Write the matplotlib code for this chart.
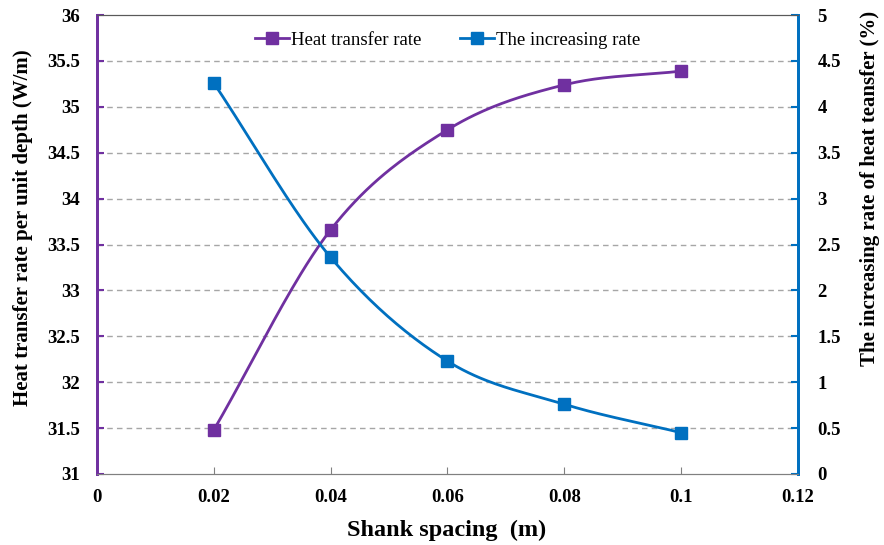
import numpy as np
import matplotlib
matplotlib.use("Agg")
import matplotlib.pyplot as plt

# data
spacing = [0.02, 0.04, 0.06, 0.08, 0.10]
heat_rate = [31.48, 33.66, 34.75, 35.24, 35.39]
incr_rate = [4.26, 2.36, 1.23, 0.76, 0.45]

purple = "#7030A0"
blue = "#0070C0"


def smooth(xs, ys, n=40):
    # Catmull-Rom curve through the points, like Excel's smoothed line
    xs = np.asarray(xs, float)
    ys = np.asarray(ys, float)
    px = np.concatenate([[2 * xs[0] - xs[1]], xs, [2 * xs[-1] - xs[-2]]])
    py = np.concatenate([[2 * ys[0] - ys[1]], ys, [2 * ys[-1] - ys[-2]]])
    ox, oy = [], []
    t = np.linspace(0, 1, n)
    for i in range(1, len(px) - 2):
        for p, o in ((px, ox), (py, oy)):
            p0, p1, p2, p3 = p[i - 1], p[i], p[i + 1], p[i + 2]
            o.extend(0.5 * (2 * p1 + (-p0 + p2) * t
                            + (2 * p0 - 5 * p1 + 4 * p2 - p3) * t ** 2
                            + (-p0 + 3 * p1 - 3 * p2 + p3) * t ** 3))
    return ox, oy


plt.rcParams['font.family'] = ['Liberation Serif', 'DejaVu Serif']

fig = plt.figure(figsize=(8.84, 5.45), dpi=100)
ax = fig.add_axes([0.1097, 0.1303, 0.793, 0.842])
ax2 = ax.twinx()

ax.set_xlim(0, 0.12)
ax.set_ylim(31, 36)
ax2.set_ylim(0, 5)
ax.set_xticks(np.arange(0, 0.121, 0.02))
ax.set_xticklabels(["0", "0.02", "0.04", "0.06", "0.08", "0.1", "0.12"])
ax.set_yticks(np.arange(31, 36.01, 0.5))
ax.set_yticklabels(["31", "31.5", "32", "32.5", "33", "33.5", "34", "34.5", "35", "35.5", "36"])
ax2.set_yticks(np.arange(0, 5.01, 0.5))
ax2.set_yticklabels(["0", "0.5", "1", "1.5", "2", "2.5", "3", "3.5", "4", "4.5", "5"])

for y in np.arange(31.5, 35.6, 0.5):
    ax.axhline(y, color="#A6A6A6", lw=1, ls=(0, (4, 3)), zorder=0)

sx, sy = smooth(spacing, heat_rate)
l1, = ax2.plot([], [], color=purple, lw=2, marker="s", ms=8, label="Heat transfer rate")
ax.plot(sx, sy, color=purple, lw=2, zorder=3)
ax.plot(spacing, heat_rate, ls="none", marker="s", ms=9, color=purple, zorder=4)

bx, by = smooth(spacing, incr_rate)
ax2.plot(bx, by, color=blue, lw=2, zorder=3)
ax2.plot(spacing, incr_rate, ls="none", marker="s", ms=9, color=blue, zorder=4)
l2, = ax2.plot([], [], color=blue, lw=2, marker="s", ms=8, label="The increasing rate")

for a in (ax, ax2):
    a.spines["top"].set_color("#595959")
    a.spines["bottom"].set_color("#808080")
    a.spines["left"].set_color(purple)
    a.spines["left"].set_linewidth(2)
    a.spines["right"].set_color(blue)
    a.spines["right"].set_linewidth(2)

ax.tick_params(axis="x", direction="in", length=5, color="#808080", pad=11,
               labelsize=13.5)
ax.tick_params(axis="y", direction="in", length=5, color=purple, width=1.5, pad=12,
               labelsize=13.5)
ax2.tick_params(axis="y", direction="in", length=5, color=blue, width=1.5, pad=14,
                labelsize=13.5)
for lab in ax.get_xticklabels() + ax.get_yticklabels() + ax2.get_yticklabels():
    lab.set_fontweight("bold")

fig.text(447 / 884, 1 - 530 / 545, "Shank spacing  (m)", fontsize=17.5,
         fontweight="bold", ha="center", va="center")
fig.text(23 / 884, 1 - 228 / 545, "Heat transfer rate per unit depth (W/m)",
         fontsize=15, fontweight="bold", rotation=90, ha="center", va="center")
fig.text(870 / 884, 1 - 188 / 545, "The increasing rate of heat teansfer (%)",
         fontsize=15, fontweight="bold", rotation=90, ha="center", va="center")

ax2.legend(handles=[l1, l2], loc="center", bbox_to_anchor=(0.5, (474 - 40) / 459),
           ncol=2, frameon=False, fontsize=13.5, handlelength=1.8, handletextpad=0.1,
           columnspacing=2.07, borderpad=0)

fig.savefig("out.png", dpi=100)
